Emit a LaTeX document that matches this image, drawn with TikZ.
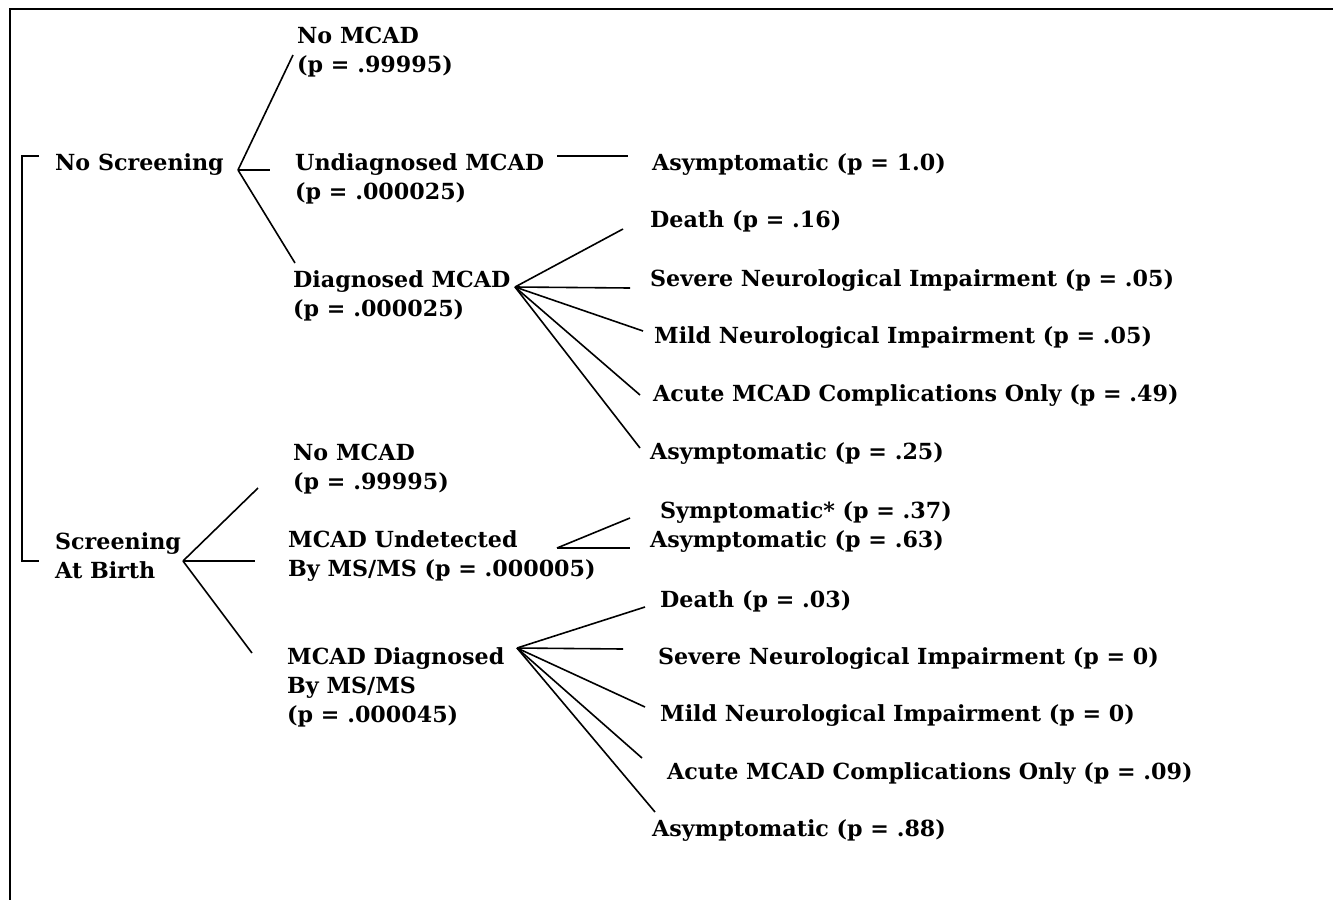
\documentclass[tikz,border=0pt]{standalone}
\usepackage{fontspec}
\setmainfont{DejaVu Serif}
\usetikzlibrary{positioning}

\begin{document}
\begin{tikzpicture}[
  x=1pt, y=-1pt,
  lbl/.style={anchor=west, inner sep=0pt, align=left, font=\bfseries\fontsize{22.2}{29}\selectfont},
  branch/.style={line width=1.6pt},
  frame/.style={line width=1.6pt}
]
  \useasboundingbox (0,0) rectangle (1333,900);
  % frame and bracket
  \draw[frame] (1333,9) -- (10,9) -- (10,900);
  \draw[branch] (39,156) -- (22,156) -- (22,561) -- (39,561);

  % strategies
  \node[lbl] (noscr) at (55,165) {No Screening};
  \node[lbl] (scrbirth) at (55,556) {Screening\\At Birth};

  % no screening outcomes
  \node[lbl] (nomcadA) at (297,52) {No MCAD\\(p = .99995)};
  \node[lbl] (undiag) at (295,179) {Undiagnosed MCAD\\(p = .000025)};
  \node[lbl] (diag) at (293,296) {Diagnosed MCAD\\(p = .000025)};
  \node[lbl] (asymA) at (652,165) {Asymptomatic (p = 1.0)};
  \node[lbl] (deathA) at (650,221) {Death (p = .16)};
  \node[lbl] (sevA) at (650,281) {Severe Neurological Impairment (p = .05)};
  \node[lbl] (mildA) at (654,338) {Mild Neurological Impairment (p = .05)};
  \node[lbl] (acuteA) at (653,396) {Acute MCAD Complications Only (p = .49)};
  \node[lbl] (asymB) at (650,454) {Asymptomatic (p = .25)};

  % screening outcomes
  \node[lbl] (nomcadB) at (293,469) {No MCAD\\(p = .99995)};
  \node[lbl] (undet) at (288,556) {MCAD Undetected\\By MS/MS (p = .000005)};
  \node[lbl] (msdiag) at (287,687) {MCAD Diagnosed\\By MS/MS\\(p = .000045)};
  \node[lbl] (sympC) at (660,513) {Symptomatic* (p = .37)};
  \node[lbl] (asymC) at (650,542) {Asymptomatic (p = .63)};
  \node[lbl] (deathD) at (660,601) {Death (p = .03)};
  \node[lbl] (sevD) at (658,659) {Severe Neurological Impairment (p = 0)};
  \node[lbl] (mildD) at (660,716) {Mild Neurological Impairment (p = 0)};
  \node[lbl] (acuteD) at (667,774) {Acute MCAD Complications Only (p = .09)};
  \node[lbl] (asymD) at (652,831) {Asymptomatic (p = .88)};

  % branch points and line ends
  \foreach \n/\x/\y in {b0/238/170, e01/293/55, e02/270/170, e03/295/263,
                        u1/557/156, u2/628/156,
                        b1/515/287, e11/623/229, e12/630/288, e13/643/331, e14/640/395, e15/640/448,
                        b2/183/561, e21/258/488, e22/255/561, e23/252/653,
                        b3/557/548, e31/630/518, e32/630/548,
                        b4/517/648, e41/645/607, e42/623/649, e43/645/707, e44/642/758, e45/655/812}
    \coordinate (\n) at (\x,\y);

  \foreach \e in {e01, e02, e03}
    \draw[branch] (b0) -- (\e);
  \draw[branch] (u1) -- (u2);
  \foreach \e in {e11, e12, e13, e14, e15}
    \draw[branch] (b1) -- (\e);
  \foreach \e in {e21, e22, e23}
    \draw[branch] (b2) -- (\e);
  \foreach \e in {e31, e32}
    \draw[branch] (b3) -- (\e);
  \foreach \e in {e41, e42, e43, e44, e45}
    \draw[branch] (b4) -- (\e);
\end{tikzpicture}
\end{document}
